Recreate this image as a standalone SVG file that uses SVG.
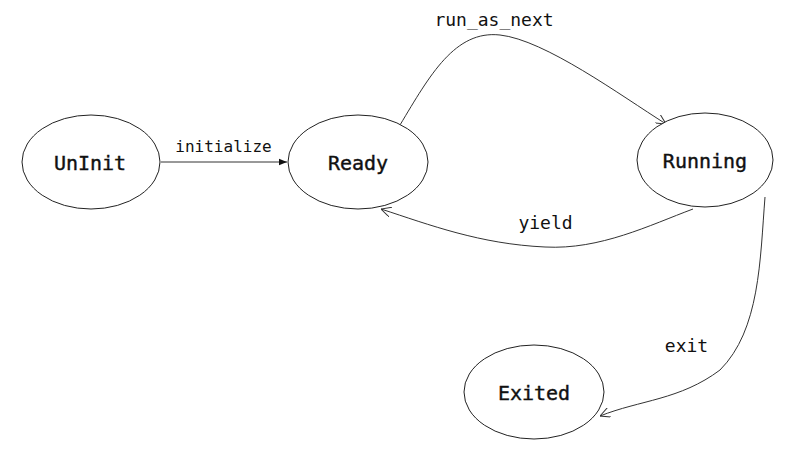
<svg xmlns="http://www.w3.org/2000/svg" width="800" height="449" viewBox="0 0 800 449">
<style>
.n{fill:#fff;stroke:#222;stroke-width:1}
.t{font-family:"DejaVu Sans Mono",monospace;font-size:20px;font-weight:normal;fill:#111;stroke:#111;stroke-width:0.4;text-anchor:middle;dominant-baseline:central}
.l{font-family:"DejaVu Sans Mono",monospace;font-size:18px;fill:#111;text-anchor:middle}
.s{font-size:16px}
.e{fill:none;stroke:#333;stroke-width:1}
</style>
<defs>
<marker id="f" viewBox="0 0 10 10" refX="10" refY="5" markerWidth="8" markerHeight="8" orient="auto" markerUnits="userSpaceOnUse"><path d="M0,1 L10,5 L0,9 z" fill="#111"/></marker>
<marker id="o" viewBox="0 0 10 10" refX="10" refY="5" markerWidth="10" markerHeight="10" orient="auto" markerUnits="userSpaceOnUse"><path d="M0,0 L10,5 L0,10" fill="none" stroke="#333" stroke-width="1"/></marker>
</defs>
<g id="connectors">
<path class="e" d="M161,162 L287,162" marker-end="url(#f)"/>
<text class="l s" x="223.5" y="152">initialize</text>
<path class="e" d="M400,125 C430,75 455,30 500,35 C545,40 620,95 666,124" marker-end="url(#o)"/>
<text class="l" x="494" y="26">run_as_next</text>
<path class="e" d="M693,209 C650,225 600,250 545,247 C480,244 430,225 381,209" marker-end="url(#o)"/>
<text class="l" x="545.5" y="229">yield</text>
<path class="e" d="M765,197 C760,260 760,330 720,370 C680,400 640,400 600,416" marker-end="url(#o)"/>
<text class="l" x="686.5" y="352">exit</text>
</g>
<g id="UnInit"><ellipse class="n" cx="91" cy="162" rx="69" ry="47"/><text class="t" x="90" y="163">UnInit</text></g>
<g id="Ready"><ellipse class="n" cx="358" cy="162" rx="70" ry="47"/><text class="t" x="358" y="163">Ready</text></g>
<g id="Running"><ellipse class="n" cx="705" cy="160" rx="68" ry="47"/><text class="t" x="705" y="161">Running</text></g>
<g id="Exited"><ellipse class="n" cx="534" cy="392" rx="70" ry="47"/><text class="t" x="534" y="393">Exited</text></g>
</svg>
